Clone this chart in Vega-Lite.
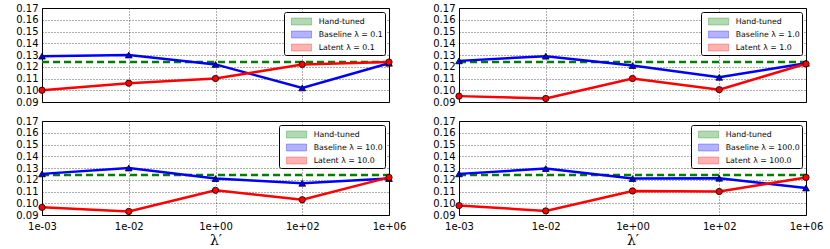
{
  "$schema": "https://vega.github.io/schema/vega-lite/v6.json",
  "padding": {"left": 15, "top": 2, "right": 0, "bottom": 0},
  "background": "white",
  "datasets": {
    "d": [
      {"panel": 1, "x": "1e-03", "series": "Hand-tuned", "y": 0.124},
      {"panel": 1, "x": "1e-02", "series": "Hand-tuned", "y": 0.124},
      {"panel": 1, "x": "1e+00", "series": "Hand-tuned", "y": 0.124},
      {"panel": 1, "x": "1e+02", "series": "Hand-tuned", "y": 0.124},
      {"panel": 1, "x": "1e+06", "series": "Hand-tuned", "y": 0.124},
      {"panel": 1, "x": "1e-03", "series": "Baseline", "y": 0.129},
      {"panel": 1, "x": "1e-02", "series": "Baseline", "y": 0.130},
      {"panel": 1, "x": "1e+00", "series": "Baseline", "y": 0.122},
      {"panel": 1, "x": "1e+02", "series": "Baseline", "y": 0.102},
      {"panel": 1, "x": "1e+06", "series": "Baseline", "y": 0.123},
      {"panel": 1, "x": "1e-03", "series": "Latent", "y": 0.100},
      {"panel": 1, "x": "1e-02", "series": "Latent", "y": 0.106},
      {"panel": 1, "x": "1e+00", "series": "Latent", "y": 0.110},
      {"panel": 1, "x": "1e+02", "series": "Latent", "y": 0.122},
      {"panel": 1, "x": "1e+06", "series": "Latent", "y": 0.124},
      {"panel": 2, "x": "1e-03", "series": "Hand-tuned", "y": 0.124},
      {"panel": 2, "x": "1e-02", "series": "Hand-tuned", "y": 0.124},
      {"panel": 2, "x": "1e+00", "series": "Hand-tuned", "y": 0.124},
      {"panel": 2, "x": "1e+02", "series": "Hand-tuned", "y": 0.124},
      {"panel": 2, "x": "1e+06", "series": "Hand-tuned", "y": 0.124},
      {"panel": 2, "x": "1e-03", "series": "Baseline", "y": 0.125},
      {"panel": 2, "x": "1e-02", "series": "Baseline", "y": 0.129},
      {"panel": 2, "x": "1e+00", "series": "Baseline", "y": 0.121},
      {"panel": 2, "x": "1e+02", "series": "Baseline", "y": 0.111},
      {"panel": 2, "x": "1e+06", "series": "Baseline", "y": 0.123},
      {"panel": 2, "x": "1e-03", "series": "Latent", "y": 0.095},
      {"panel": 2, "x": "1e-02", "series": "Latent", "y": 0.093},
      {"panel": 2, "x": "1e+00", "series": "Latent", "y": 0.110},
      {"panel": 2, "x": "1e+02", "series": "Latent", "y": 0.1005},
      {"panel": 2, "x": "1e+06", "series": "Latent", "y": 0.1225},
      {"panel": 3, "x": "1e-03", "series": "Hand-tuned", "y": 0.124},
      {"panel": 3, "x": "1e-02", "series": "Hand-tuned", "y": 0.124},
      {"panel": 3, "x": "1e+00", "series": "Hand-tuned", "y": 0.124},
      {"panel": 3, "x": "1e+02", "series": "Hand-tuned", "y": 0.124},
      {"panel": 3, "x": "1e+06", "series": "Hand-tuned", "y": 0.124},
      {"panel": 3, "x": "1e-03", "series": "Baseline", "y": 0.125},
      {"panel": 3, "x": "1e-02", "series": "Baseline", "y": 0.130},
      {"panel": 3, "x": "1e+00", "series": "Baseline", "y": 0.121},
      {"panel": 3, "x": "1e+02", "series": "Baseline", "y": 0.117},
      {"panel": 3, "x": "1e+06", "series": "Baseline", "y": 0.121},
      {"panel": 3, "x": "1e-03", "series": "Latent", "y": 0.0965},
      {"panel": 3, "x": "1e-02", "series": "Latent", "y": 0.093},
      {"panel": 3, "x": "1e+00", "series": "Latent", "y": 0.111},
      {"panel": 3, "x": "1e+02", "series": "Latent", "y": 0.103},
      {"panel": 3, "x": "1e+06", "series": "Latent", "y": 0.122},
      {"panel": 4, "x": "1e-03", "series": "Hand-tuned", "y": 0.124},
      {"panel": 4, "x": "1e-02", "series": "Hand-tuned", "y": 0.124},
      {"panel": 4, "x": "1e+00", "series": "Hand-tuned", "y": 0.124},
      {"panel": 4, "x": "1e+02", "series": "Hand-tuned", "y": 0.124},
      {"panel": 4, "x": "1e+06", "series": "Hand-tuned", "y": 0.124},
      {"panel": 4, "x": "1e-03", "series": "Baseline", "y": 0.125},
      {"panel": 4, "x": "1e-02", "series": "Baseline", "y": 0.1295},
      {"panel": 4, "x": "1e+00", "series": "Baseline", "y": 0.121},
      {"panel": 4, "x": "1e+02", "series": "Baseline", "y": 0.1213},
      {"panel": 4, "x": "1e+06", "series": "Baseline", "y": 0.113},
      {"panel": 4, "x": "1e-03", "series": "Latent", "y": 0.098},
      {"panel": 4, "x": "1e-02", "series": "Latent", "y": 0.0935},
      {"panel": 4, "x": "1e+00", "series": "Latent", "y": 0.1105},
      {"panel": 4, "x": "1e+02", "series": "Latent", "y": 0.110},
      {"panel": 4, "x": "1e+06", "series": "Latent", "y": 0.122}
    ]
  },
  "config": {
    "font": "DejaVu Sans",
    "view": {"stroke": "black", "strokeWidth": 1},
    "axis": {
      "grid": true, "gridColor": "black", "gridDash": [1, 2], "gridWidth": 0.7, "gridOpacity": 0.9,
      "domain": false, "ticks": false,
      "labelFont": "DejaVu Sans", "labelFontSize": 10, "labelColor": "black", "labelPadding": 4
    },
    "legend": {
      "orient": "top-right", "offset": 4, "title": null,
      "fillColor": "white", "strokeColor": "black", "strokeWidth": 1, "cornerRadius": 2,
      "padding": 2, "rowPadding": 0,
      "symbolType": "M-1.43,-0.5H1.43V0.5H-1.43Z", "symbolSize": 196, "symbolStrokeWidth": 1,
      "symbolOffset": 8, "labelOffset": 9.7,
      "labelFont": "DejaVu Sans", "labelFontSize": 7.8, "labelColor": "black"
    }
  },
  "columns": 2,
  "bounds": "flush",
  "spacing": {"row": 19, "column": 70},
  "resolve": {"legend": {"color": "independent"}},
  "concat": [
    {
      "width": 347, "height": 94,
      "data": {"name": "d"},
      "transform": [{"filter": "datum.panel == 1"}],
      "encoding": {
        "x": {"field": "x", "type": "ordinal", "sort": ["1e-03", "1e-02", "1e+00", "1e+02", "1e+06"], "scale": {"type": "point", "padding": 0}, "axis": {"labels": false, "title": null}},
        "y": {"field": "y", "type": "quantitative", "scale": {"domain": [0.09, 0.17], "nice": false, "zero": false}, "axis": {"values": [0.09, 0.10, 0.11, 0.12, 0.13, 0.14, 0.15, 0.16, 0.17], "format": ".2f", "title": null}}
      },
      "layer": [
        {"transform": [{"filter": "datum.series == 'Hand-tuned'"}], "mark": {"type": "line", "strokeWidth": 2.5, "strokeDash": [7, 4]},
         "encoding": {"color": {"field": "series", "type": "nominal", "scale": {"domain": ["Hand-tuned", "Baseline", "Latent"], "range": ["#008000", "#0000ff", "#ff0000"]},
           "legend": {"labelExpr": "datum.label == 'Hand-tuned' ? datum.label : datum.label + ' λ = 0.1'", "encode": {"symbols": {"update": {"fill": {"scale": "color", "field": "value"}, "fillOpacity": {"value": 0.3}, "strokeOpacity": {"value": 0.3}, "strokeDash": {"value": [1, 0]}}}}}}}},
        {"transform": [{"filter": "datum.series == 'Baseline'"}], "mark": {"type": "line", "strokeWidth": 2.5}, "encoding": {"color": {"field": "series", "type": "nominal"}}},
        {"transform": [{"filter": "datum.series == 'Baseline'"}], "mark": {"type": "point", "shape": "triangle-up", "filled": true, "fill": "#0000ff", "stroke": "black", "strokeWidth": 0.8, "size": 45, "opacity": 1}},
        {"transform": [{"filter": "datum.series == 'Latent'"}], "mark": {"type": "line", "strokeWidth": 2.5}, "encoding": {"color": {"field": "series", "type": "nominal"}}},
        {"transform": [{"filter": "datum.series == 'Latent'"}], "mark": {"type": "point", "shape": "circle", "filled": true, "fill": "#ff0000", "stroke": "black", "strokeWidth": 0.8, "size": 40, "opacity": 1}}
      ]
    },
    {
      "width": 347, "height": 94,
      "data": {"name": "d"},
      "transform": [{"filter": "datum.panel == 2"}],
      "encoding": {
        "x": {"field": "x", "type": "ordinal", "sort": ["1e-03", "1e-02", "1e+00", "1e+02", "1e+06"], "scale": {"type": "point", "padding": 0}, "axis": {"labels": false, "title": null}},
        "y": {"field": "y", "type": "quantitative", "scale": {"domain": [0.09, 0.17], "nice": false, "zero": false}, "axis": {"values": [0.09, 0.10, 0.11, 0.12, 0.13, 0.14, 0.15, 0.16, 0.17], "format": ".2f", "title": null}}
      },
      "layer": [
        {"transform": [{"filter": "datum.series == 'Hand-tuned'"}], "mark": {"type": "line", "strokeWidth": 2.5, "strokeDash": [7, 4]},
         "encoding": {"color": {"field": "series", "type": "nominal", "scale": {"domain": ["Hand-tuned", "Baseline", "Latent"], "range": ["#008000", "#0000ff", "#ff0000"]},
           "legend": {"labelExpr": "datum.label == 'Hand-tuned' ? datum.label : datum.label + ' λ = 1.0'", "encode": {"symbols": {"update": {"fill": {"scale": "color", "field": "value"}, "fillOpacity": {"value": 0.3}, "strokeOpacity": {"value": 0.3}, "strokeDash": {"value": [1, 0]}}}}}}}},
        {"transform": [{"filter": "datum.series == 'Baseline'"}], "mark": {"type": "line", "strokeWidth": 2.5}, "encoding": {"color": {"field": "series", "type": "nominal"}}},
        {"transform": [{"filter": "datum.series == 'Baseline'"}], "mark": {"type": "point", "shape": "triangle-up", "filled": true, "fill": "#0000ff", "stroke": "black", "strokeWidth": 0.8, "size": 45, "opacity": 1}},
        {"transform": [{"filter": "datum.series == 'Latent'"}], "mark": {"type": "line", "strokeWidth": 2.5}, "encoding": {"color": {"field": "series", "type": "nominal"}}},
        {"transform": [{"filter": "datum.series == 'Latent'"}], "mark": {"type": "point", "shape": "circle", "filled": true, "fill": "#ff0000", "stroke": "black", "strokeWidth": 0.8, "size": 40, "opacity": 1}}
      ]
    },
    {
      "width": 347, "height": 94,
      "data": {"name": "d"},
      "transform": [{"filter": "datum.panel == 3"}],
      "encoding": {
        "x": {"field": "x", "type": "ordinal", "sort": ["1e-03", "1e-02", "1e+00", "1e+02", "1e+06"], "scale": {"type": "point", "padding": 0}, "axis": {"labelAngle": 0, "labelPadding": 6, "title": "λ′", "titleFont": "DejaVu Serif", "titleFontSize": 14, "titleFontWeight": "normal", "titlePadding": 2, "titleColor": "black"}},
        "y": {"field": "y", "type": "quantitative", "scale": {"domain": [0.09, 0.17], "nice": false, "zero": false}, "axis": {"values": [0.09, 0.10, 0.11, 0.12, 0.13, 0.14, 0.15, 0.16, 0.17], "format": ".2f", "title": null}}
      },
      "layer": [
        {"transform": [{"filter": "datum.series == 'Hand-tuned'"}], "mark": {"type": "line", "strokeWidth": 2.5, "strokeDash": [7, 4]},
         "encoding": {"color": {"field": "series", "type": "nominal", "scale": {"domain": ["Hand-tuned", "Baseline", "Latent"], "range": ["#008000", "#0000ff", "#ff0000"]},
           "legend": {"labelExpr": "datum.label == 'Hand-tuned' ? datum.label : datum.label + ' λ = 10.0'", "encode": {"symbols": {"update": {"fill": {"scale": "color", "field": "value"}, "fillOpacity": {"value": 0.3}, "strokeOpacity": {"value": 0.3}, "strokeDash": {"value": [1, 0]}}}}}}}},
        {"transform": [{"filter": "datum.series == 'Baseline'"}], "mark": {"type": "line", "strokeWidth": 2.5}, "encoding": {"color": {"field": "series", "type": "nominal"}}},
        {"transform": [{"filter": "datum.series == 'Baseline'"}], "mark": {"type": "point", "shape": "triangle-up", "filled": true, "fill": "#0000ff", "stroke": "black", "strokeWidth": 0.8, "size": 45, "opacity": 1}},
        {"transform": [{"filter": "datum.series == 'Latent'"}], "mark": {"type": "line", "strokeWidth": 2.5}, "encoding": {"color": {"field": "series", "type": "nominal"}}},
        {"transform": [{"filter": "datum.series == 'Latent'"}], "mark": {"type": "point", "shape": "circle", "filled": true, "fill": "#ff0000", "stroke": "black", "strokeWidth": 0.8, "size": 40, "opacity": 1}}
      ]
    },
    {
      "width": 347, "height": 94,
      "data": {"name": "d"},
      "transform": [{"filter": "datum.panel == 4"}],
      "encoding": {
        "x": {"field": "x", "type": "ordinal", "sort": ["1e-03", "1e-02", "1e+00", "1e+02", "1e+06"], "scale": {"type": "point", "padding": 0}, "axis": {"labelAngle": 0, "labelPadding": 6, "title": "λ′", "titleFont": "DejaVu Serif", "titleFontSize": 14, "titleFontWeight": "normal", "titlePadding": 2, "titleColor": "black"}},
        "y": {"field": "y", "type": "quantitative", "scale": {"domain": [0.09, 0.17], "nice": false, "zero": false}, "axis": {"values": [0.09, 0.10, 0.11, 0.12, 0.13, 0.14, 0.15, 0.16, 0.17], "format": ".2f", "title": null}}
      },
      "layer": [
        {"transform": [{"filter": "datum.series == 'Hand-tuned'"}], "mark": {"type": "line", "strokeWidth": 2.5, "strokeDash": [7, 4]},
         "encoding": {"color": {"field": "series", "type": "nominal", "scale": {"domain": ["Hand-tuned", "Baseline", "Latent"], "range": ["#008000", "#0000ff", "#ff0000"]},
           "legend": {"labelExpr": "datum.label == 'Hand-tuned' ? datum.label : datum.label + ' λ = 100.0'", "encode": {"symbols": {"update": {"fill": {"scale": "color", "field": "value"}, "fillOpacity": {"value": 0.3}, "strokeOpacity": {"value": 0.3}, "strokeDash": {"value": [1, 0]}}}}}}}},
        {"transform": [{"filter": "datum.series == 'Baseline'"}], "mark": {"type": "line", "strokeWidth": 2.5}, "encoding": {"color": {"field": "series", "type": "nominal"}}},
        {"transform": [{"filter": "datum.series == 'Baseline'"}], "mark": {"type": "point", "shape": "triangle-up", "filled": true, "fill": "#0000ff", "stroke": "black", "strokeWidth": 0.8, "size": 45, "opacity": 1}},
        {"transform": [{"filter": "datum.series == 'Latent'"}], "mark": {"type": "line", "strokeWidth": 2.5}, "encoding": {"color": {"field": "series", "type": "nominal"}}},
        {"transform": [{"filter": "datum.series == 'Latent'"}], "mark": {"type": "point", "shape": "circle", "filled": true, "fill": "#ff0000", "stroke": "black", "strokeWidth": 0.8, "size": 40, "opacity": 1}}
      ]
    }
  ]
}
